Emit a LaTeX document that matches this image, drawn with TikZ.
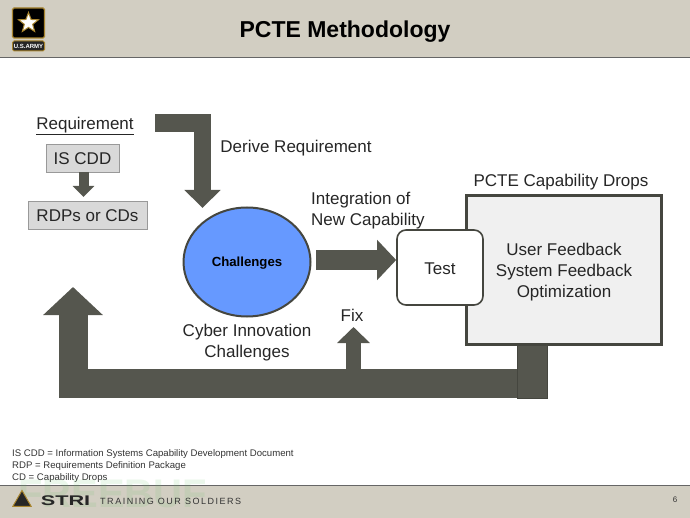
\documentclass[tikz,border=0pt]{standalone}
\usepackage{fontspec}
\setmainfont{Liberation Sans}
\newfontfamily\spacedfont[LetterSpace=17]{Liberation Sans}
\usetikzlibrary{arrows.meta}
\usetikzlibrary{shapes.geometric}
\definecolor{bandtan}{HTML}{D2CEC2}
\definecolor{blockgray}{HTML}{55564E}
\definecolor{edgegray}{HTML}{45463F}
\definecolor{challengeblue}{HTML}{6699FF}
\definecolor{armygold}{HTML}{A8852F}
\tikzset{
  label/.style={font=\fontsize{17}{21}\selectfont, text=black!85, align=center, inner sep=0pt},
  greybox/.style={draw=black!40, fill=black!15, line width=.8pt, minimum height=28pt, inner sep=0pt, text height=14pt, text depth=0pt, font=\fontsize{17}{21}\selectfont, text=black!85},
  blockline/.style={draw=blockgray, line join=miter},
  note/.style={font=\fontsize{9.6}{12}\selectfont, text=black!80, anchor=base west, inner sep=0pt},
}
\begin{document}
\begin{tikzpicture}[x=1pt, y=-1pt]
  \useasboundingbox (0,0) rectangle (690,518);
  % bands
  \fill[bandtan] (0,0) rectangle (690,58);
  \draw[black!60, line width=1pt] (0,58) -- (690,58);
  \fill[bandtan] (0,485) rectangle (690,518);
  \draw[black!60, line width=1pt] (0,485) -- (690,485);
  \node[font=\fontsize{23}{27}\selectfont\bfseries, inner sep=0pt] (title) at (345,32) {PCTE Methodology};
  % logo
  \node[draw=armygold, fill=black, line width=1.2pt, rounded corners=1.5pt, minimum width=32pt, minimum height=30pt, inner sep=0pt] (armybox) at (28.5,23) {};
  \node[star, star points=5, star point ratio=2.4, draw=armygold, fill=white, line width=1pt, minimum size=21pt, inner sep=0pt] (armystar) at (armybox) {};
  \node[draw=armygold, fill=black!85, line width=1pt, rounded corners=1.5pt, minimum width=32pt, minimum height=10pt, inner sep=0pt, text=white, font=\fontsize{6}{7}\selectfont\bfseries] (armytag) at (28.5,46) {U.S.ARMY};
  % requirement side
  \node[label] (requirement) at (85,126) {\underline{Requirement}};
  \node[greybox, minimum width=73pt] (iscdd) at (82.5,158) {IS CDD};
  \node[greybox, minimum width=119pt] (rdps) at (87.5,215) {RDPs or CDs};
  \draw[blockline, line width=10pt, -{Triangle[width=21pt, length=11pt]}] (iscdd.south -| 83.5,0) -- (83.5,197);
  % centre
  \node[ellipse, draw=edgegray, fill=challengeblue, line width=2pt, minimum width=127pt, minimum height=109pt, inner sep=0pt, text height=10pt, text depth=0pt, font=\fontsize{13.2}{15}\selectfont\bfseries] (challenges) at (247,262) {Challenges};
  \node[draw=edgegray, fill=black!6, line width=2.4pt, minimum width=195pt, minimum height=149pt, inner sep=0pt] (dropbox) at (564,270) {};
  \node[draw=edgegray, fill=white, line width=1.6pt, rounded corners=9pt, minimum width=86pt, minimum height=75pt, inner sep=0pt, text height=14pt, text depth=0pt, font=\fontsize{17}{21}\selectfont, text=black!85] (test) at (440,267.5) {Test};
  \node[label] (dropfeedback) at (564,272) {User Feedback\\System Feedback\\Optimization};
  \node[label] (droplabel) at (561,182.5) {PCTE Capability Drops};
  \node[label] (derivelabel) at (296,148.5) {Derive Requirement};
  \node[label, align=left, anchor=west] (integrationlabel) at (311,210.5) {Integration of\\New Capability};
  \node[label] (cyberlabel) at (247,343) {Cyber Innovation\\Challenges};
  \node[label] (fixlabel) at (352,315) {Fix};
  % block arrows
  \coordinate (derivestart) at (155,123);
  \coordinate (integrationstart) at (316,260);
  \draw[blockline, line width=17.5pt, -{Triangle[width=35pt, length=18pt]}] (derivestart) -| (202.5,208);
  \draw[blockline, line width=20pt, -{Triangle[width=39pt, length=19pt]}] (integrationstart) -- (integrationstart -| test.west);
  \node[draw=edgegray, fill=blockgray, line width=.7pt, minimum width=30pt, minimum height=53pt, inner sep=0pt] (dropbar) at (532,371.5) {};
  \coordinate (feedbackstart) at (dropbar.west |- 0,383.5);
  \draw[blockline, line width=29pt, -{Triangle[width=58pt, length=28pt]}] (feedbackstart) -| (73,287);
  \draw[blockline, line width=15pt, -{Triangle[width=32pt, length=16pt]}] (353.5,369) -- (353.5,327);
  % notes
  \node[note] (notea) at (12,456) {IS CDD = Information Systems Capability Development Document};
  \node[note] (noteb) at (12,468) {RDP = Requirements Definition Package};
  \node[note] (notec) at (12,480) {CD = Capability Drops};
  % footer
  \node[font=\fontsize{40}{42}\selectfont\bfseries, text=black!40!green!60!white, opacity=.13, anchor=west, inner sep=0pt] (watermark) at (18,494) {FREEBUF};
  \node[regular polygon, regular polygon sides=3, draw=armygold, fill=black!85, line width=1pt, minimum size=21pt, inner sep=0pt] (strilogo) at (22,501) {};
  \node[xscale=1.55, font=\fontsize{14}{16}\selectfont\bfseries, text=black!85, inner sep=0pt] (stri) at (65.5,501) {STRI};
  \node[font=\fontsize{9}{11}\selectfont\spacedfont, text=black!80, anchor=west, inner sep=0pt] (training) at (100,501) {TRAINING OUR SOLDIERS};
  \node[font=\fontsize{8}{10}\selectfont, text=black!80, inner sep=0pt] (pagenum) at (675,500) {6};
\end{tikzpicture}
\end{document}
